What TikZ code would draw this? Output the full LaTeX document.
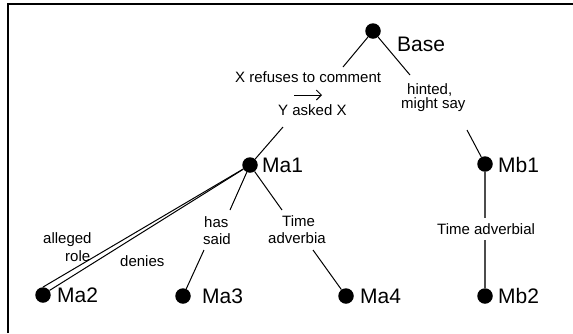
\documentclass[tikz,border=0pt]{standalone}
\usepackage{fontspec}
\setmainfont{Liberation Sans}
\usetikzlibrary{arrows.meta}
\begin{document}
\begin{tikzpicture}[x=1pt,y=-1pt,
  dot/.style={circle,fill=black,inner sep=0pt,minimum size=15.5pt},
  vname/.style={anchor=base west,inner sep=0pt,font=\fontsize{21}{25}\selectfont},
  elab/.style={anchor=base west,inner sep=0pt,font=\fontsize{15}{18}\selectfont},
  edge/.style={line width=1pt},
  grayedge/.style={line width=1.3pt,draw=black!70},
]
\useasboundingbox (0,0) rectangle (573,333);
\draw[line width=1.4pt] (8,333) -- (8,4) -- (573,4);

% vertices
\node[dot] (Base) at (373,31) {};
\node[dot] (Ma1) at (250,165) {};
\node[dot] (Mb1) at (485,164) {};
\node[dot] (Ma2) at (43,295) {};
\node[dot] (Ma3) at (183,296) {};
\node[dot] (Ma4) at (346,296) {};
\node[dot] (Mb2) at (485,296) {};

% vertex names
\node[vname] (tBase) at (397,51) {Base};
\node[vname] (tMa1) at (262,172) {Ma1};
\node[vname] (tMb1) at (498,172) {Mb1};
\node[vname] (tMa2) at (57,302) {Ma2};
\node[vname] (tMa3) at (202,303) {Ma3};
\node[vname] (tMa4) at (360,303) {Ma4};
\node[vname] (tMb2) at (498,303) {Mb2};

% edge labels
\node[elab] (l1a) at (235,82) {X refuses to comment};
\coordinate (arrA) at (294,95);
\coordinate (arrB) at (322,95);
\draw[line width=0.9pt,-{Straight Barb[length=5pt,width=10pt]}] (arrA) -- (arrB);
\node[elab] (l1b) at (278,115) {Y asked X};
\node[elab] (l2a) at (407,94) {hinted,};
\node[elab] (l2b) at (401,108) {might say};
\node[elab] (l3a) at (43,243) {alleged};
\node[elab] (l3b) at (65,261) {role};
\node[elab] (l4) at (120,266) {denies};
\node[elab] (l5a) at (204,227) {has};
\node[elab] (l5b) at (203,244) {said};
\node[elab] (l6a) at (282,226) {Time};
\node[elab] (l6b) at (268,243) {adverbia};
\node[elab] (l7) at (437,234) {Time adverbial};

% segment ends
\coordinate (e1a) at (343,67);
\coordinate (e1b) at (283,127);
\coordinate (e2a) at (410,75);
\coordinate (e2b) at (467,130);
\coordinate (e5a) at (230,210);
\coordinate (e5b) at (204,250);
\coordinate (e6a) at (282,210);
\coordinate (e6b) at (313,250);
\coordinate (e7a) at (485,218);
\coordinate (e7b) at (485,240);

% connectors
\draw[edge] (Base) -- (e1a);
\draw[edge] (e1b) -- (Ma1);
\draw[edge] (Base) -- (e2a);
\draw[edge] (e2b) -- (Mb1);
\draw[edge] (Ma1) -- (Ma2.north);
\draw[edge] (Ma1) -- (Ma2.35);
\draw[edge] (Ma1) -- (e5a);
\draw[edge] (e5b) -- (Ma3);
\draw[edge] (Ma1) -- (e6a);
\draw[edge] (e6b) -- (Ma4);
\draw[grayedge] (Mb1) -- (e7a);
\draw[grayedge] (e7b) -- (Mb2);
\end{tikzpicture}
\end{document}
